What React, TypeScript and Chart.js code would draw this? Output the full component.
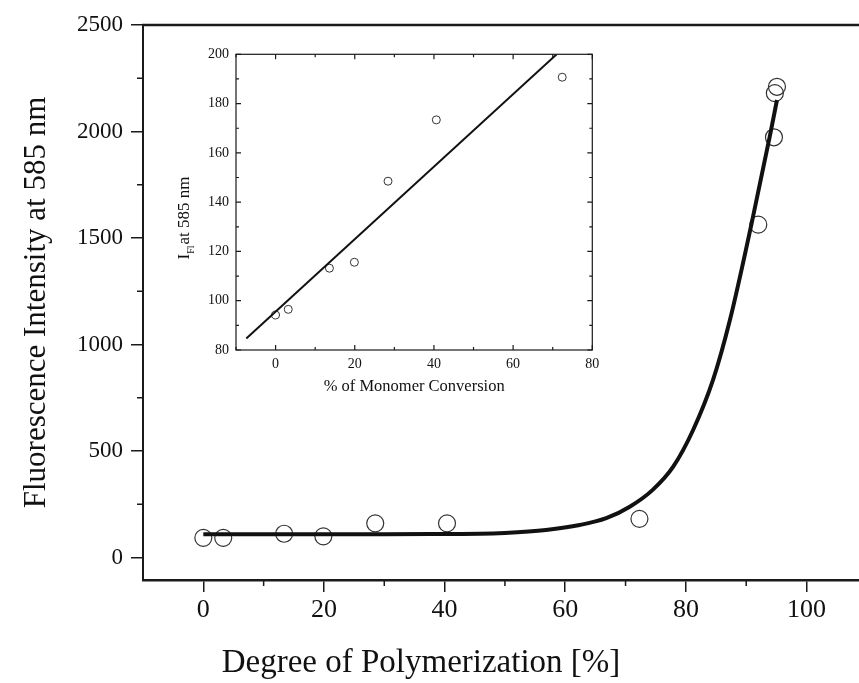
import React, { useEffect, useRef } from 'react';
import { Chart, registerables } from 'chart.js';

Chart.register(...registerables);

const FONT = '"Liberation Serif", "Times New Roman", serif';

// Main chart data
const curveX = [0, 10, 20, 30, 40, 45.8, 50, 56.8, 62.4, 66.8, 70.7, 74.5, 77.9, 81.2, 84.5, 87.3, 90.9, 93.9, 95.1];
const curveY = [110, 110, 110, 110, 111, 112, 116, 130, 153, 185, 239, 318, 427, 599, 834, 1115, 1569, 1976, 2148];
const pointX = [0, 3.3, 13.4, 19.9, 28.5, 40.4, 72.3, 92.0, 94.6, 94.75, 95.1];
const pointY = [93, 93, 112, 100, 161, 161, 182, 1563, 1973, 2180, 2210];
const mainXTicks = [0, 20, 40, 60, 80, 100];
const mainXMinor = [10, 30, 50, 70, 90];
const mainYTicks = [0, 500, 1000, 1500, 2000, 2500];
const mainYMinor = [250, 750, 1250, 1750, 2250];
const mainXTitle = 'Degree of Polymerization [%]';
const mainYTitle = 'Fluorescence Intensity at 585 nm';

// Inset data
const insetX = [0, 3.2, 13.6, 19.9, 28.4, 40.6, 72.4];
const insetY = [94.2, 96.5, 113.2, 115.6, 148.5, 173.4, 190.7];
const fitX = [-7.4, 71];
const fitY = [84.7, 200];
const insetXTicks = [0, 20, 40, 60, 80];
const insetXMinor = [-10, 10, 30, 50, 70];
const insetYTicks = [80, 100, 120, 140, 160, 180, 200];
const insetYMinor = [90, 110, 130, 150, 170, 190];
const insetXTitle = '% of Monomer Conversion';

const toXY = (xs: number[], ys: number[]) => xs.map((x, i) => ({ x, y: ys[i] }));

const mainExtrasPlugin = {
  id: 'mainExtras',
  afterDraw(chart: any) {
    const { ctx, chartArea, scales } = chart;
    ctx.save();
    ctx.strokeStyle = '#1a1a1a';
    ctx.lineWidth = 1.5;
    ctx.beginPath();
    mainXMinor.forEach((v) => {
      const x = scales.x.getPixelForValue(v);
      ctx.moveTo(x, chartArea.bottom);
      ctx.lineTo(x, chartArea.bottom + 6);
    });
    mainYMinor.forEach((v) => {
      const y = scales.y.getPixelForValue(v);
      ctx.moveTo(chartArea.left - 6, y);
      ctx.lineTo(chartArea.left, y);
    });
    ctx.stroke();
    // top frame line
    ctx.lineWidth = 2.5;
    ctx.beginPath();
    ctx.moveTo(chartArea.left - 1, chartArea.top);
    ctx.lineTo(chart.width, chartArea.top);
    ctx.stroke();
    // x-axis title (the original figure is cropped on the right, so it sits left of centre)
    ctx.fillStyle = '#111';
    ctx.font = `33px ${FONT}`;
    ctx.textAlign = 'center';
    ctx.textBaseline = 'alphabetic';
    ctx.fillText(mainXTitle, 421, 672);
    ctx.restore();
  },
};

const insetFramePlugin = {
  id: 'insetFrame',
  afterDraw(chart: any) {
    const { ctx, chartArea, scales } = chart;
    const { left, right, top, bottom } = chartArea;
    ctx.save();
    ctx.strokeStyle = '#1a1a1a';
    ctx.lineWidth = 1.2;
    ctx.strokeRect(left, top, right - left, bottom - top);
    ctx.beginPath();
    const tickX = (v: number, len: number) => {
      const x = scales.x.getPixelForValue(v);
      ctx.moveTo(x, bottom);
      ctx.lineTo(x, bottom - len);
      ctx.moveTo(x, top);
      ctx.lineTo(x, top + len);
    };
    const tickY = (v: number, len: number) => {
      const y = scales.y.getPixelForValue(v);
      ctx.moveTo(left, y);
      ctx.lineTo(left + len, y);
      ctx.moveTo(right, y);
      ctx.lineTo(right - len, y);
    };
    insetXTicks.forEach((v) => tickX(v, 5));
    insetXMinor.forEach((v) => tickX(v, 3));
    insetYTicks.forEach((v) => tickY(v, 5));
    insetYMinor.forEach((v) => tickY(v, 3));
    ctx.stroke();

    // y-axis title with subscript
    const cx = 35;
    const cy = 188;
    ctx.translate(cx, cy);
    ctx.rotate(-Math.PI / 2);
    ctx.fillStyle = '#111';
    ctx.textBaseline = 'middle';
    ctx.textAlign = 'left';
    const big = `17px ${FONT}`;
    const small = `10px ${FONT}`;
    ctx.font = big;
    const wI = ctx.measureText('I').width;
    const wRest = ctx.measureText('at 585 nm').width;
    ctx.font = small;
    const wSub = ctx.measureText('Fl').width;
    const total = wI + wSub + 1 + wRest;
    let x0 = -total / 2;
    ctx.font = big;
    ctx.fillText('I', x0, 0);
    x0 += wI;
    ctx.font = small;
    ctx.fillText('Fl', x0, 6);
    x0 += wSub + 1;
    ctx.font = big;
    ctx.fillText('at 585 nm', x0, 0);
    ctx.restore();
  },
};

export default function App() {
  const mainRef = useRef<HTMLCanvasElement | null>(null);
  const insetRef = useRef<HTMLCanvasElement | null>(null);

  useEffect(() => {
    if (!mainRef.current || !insetRef.current) return;

    const main = new Chart(mainRef.current, {
      type: 'scatter',
      data: {
        datasets: [
          {
            label: 'fit',
            data: toXY(curveX, curveY),
            showLine: true,
            borderColor: '#111',
            borderWidth: 4,
            pointRadius: 0,
            cubicInterpolationMode: 'monotone',
            fill: false,
          },
          {
            label: 'data',
            data: toXY(pointX, pointY),
            showLine: false,
            pointRadius: 8.5,
            pointBorderWidth: 1.2,
            pointBorderColor: '#333',
            pointBackgroundColor: 'rgba(0,0,0,0)',
            borderColor: '#333',
            backgroundColor: 'rgba(0,0,0,0)',
          },
        ],
      },
      options: {
        animation: false,
        responsive: false,
        layout: { autoPadding: false, padding: { top: 25, right: 0, left: 0, bottom: 0 } },
        plugins: { legend: { display: false }, tooltip: { enabled: false } },
        scales: {
          x: {
            type: 'linear',
            position: 'bottom',
            min: -10,
            max: 108.7,
            afterBuildTicks: (s: any) => {
              s.ticks = mainXTicks.map((value) => ({ value }));
            },
            afterFit: (s: any) => {
              s.height = 103;
            },
            ticks: {
              font: { family: FONT, size: 26 },
              color: '#111',
              padding: 3,
              maxRotation: 0,
              callback: (v: any) => String(v),
            },
            grid: { drawOnChartArea: false, drawTicks: true, tickLength: 12, color: '#1a1a1a', lineWidth: 1.5 },
            border: { display: true, color: '#1a1a1a', width: 2.5 },
          },
          y: {
            type: 'linear',
            position: 'left',
            min: -105,
            max: 2500,
            afterBuildTicks: (s: any) => {
              s.ticks = mainYTicks.map((value) => ({ value }));
            },
            afterFit: (s: any) => {
              s.width = 143;
            },
            ticks: {
              font: { family: FONT, size: 23 },
              color: '#111',
              padding: 8,
              callback: (v: any) => String(v),
            },
            grid: { drawOnChartArea: false, drawTicks: true, tickLength: 12, color: '#1a1a1a', lineWidth: 1.5 },
            border: { display: true, color: '#1a1a1a', width: 2 },
            title: {
              display: true,
              text: mainYTitle,
              font: { family: FONT, size: 31 },
              color: '#111',
              padding: { top: 18, bottom: 0 },
            },
          },
        },
      },
      plugins: [mainExtrasPlugin],
    } as any);

    const inset = new Chart(insetRef.current, {
      type: 'scatter',
      data: {
        datasets: [
          {
            label: 'linear fit',
            data: toXY(fitX, fitY),
            showLine: true,
            borderColor: '#111',
            borderWidth: 2,
            pointRadius: 0,
            fill: false,
          },
          {
            label: 'data',
            data: toXY(insetX, insetY),
            showLine: false,
            pointRadius: 4,
            pointBorderWidth: 1,
            pointBorderColor: '#333',
            pointBackgroundColor: 'rgba(0,0,0,0)',
            borderColor: '#333',
            backgroundColor: 'rgba(0,0,0,0)',
          },
        ],
      },
      options: {
        animation: false,
        responsive: false,
        layout: { autoPadding: false, padding: { top: 24.3, right: 17.7, left: 0, bottom: 0 } },
        plugins: { legend: { display: false }, tooltip: { enabled: false } },
        scales: {
          x: {
            type: 'linear',
            position: 'bottom',
            min: -10,
            max: 80,
            afterBuildTicks: (s: any) => {
              s.ticks = insetXTicks.map((value) => ({ value }));
            },
            afterFit: (s: any) => {
              s.height = 60;
            },
            ticks: { font: { family: FONT, size: 14 }, color: '#111', padding: 6, maxRotation: 0 },
            grid: { display: false, drawTicks: false },
            border: { display: false },
            title: {
              display: true,
              text: insetXTitle,
              font: { family: FONT, size: 16.5 },
              color: '#111',
              padding: { top: 0, bottom: 13.4 },
            },
          },
          y: {
            type: 'linear',
            position: 'left',
            min: 80,
            max: 200,
            afterBuildTicks: (s: any) => {
              s.ticks = insetYTicks.map((value) => ({ value }));
            },
            afterFit: (s: any) => {
              s.width = 86;
            },
            ticks: { font: { family: FONT, size: 14 }, color: '#111', padding: 7 },
            grid: { display: false, drawTicks: false },
            border: { display: false },
          },
        },
      },
      plugins: [insetFramePlugin],
    } as any);

    return () => {
      main.destroy();
      inset.destroy();
    };
  }, []);

  return (
    <div style={{ position: 'absolute', left: 0, top: 0, width: 859, height: 683, background: '#fff' }}>
      <canvas ref={mainRef} width={859} height={683} style={{ position: 'absolute', left: 0, top: 0 }} />
      <canvas ref={insetRef} width={460} height={380} style={{ position: 'absolute', left: 150, top: 30 }} />
    </div>
  );
}
